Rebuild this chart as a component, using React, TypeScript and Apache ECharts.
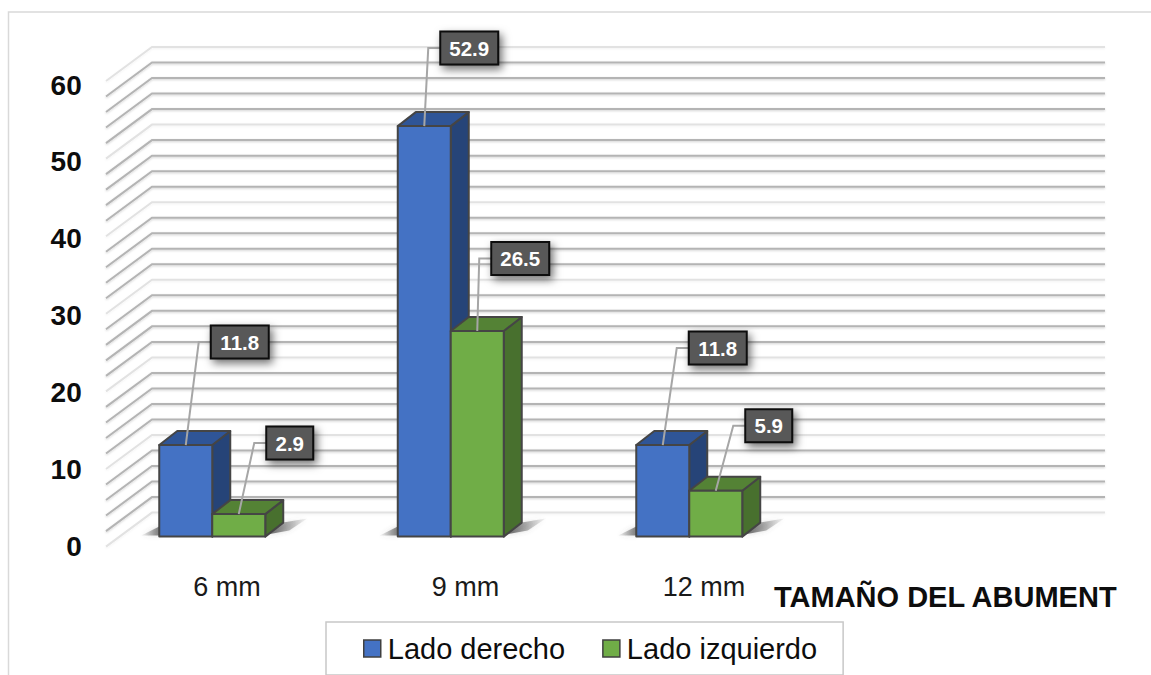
import React, { useEffect, useRef } from "react";
import * as echarts from "echarts";

// Abutment sizes and share of cases on each side
const categories = ["6 mm", "9 mm", "12 mm", ""];
const ladoDerecho = [11.8, 52.9, 11.8];
const ladoIzquierdo = [2.9, 26.5, 5.9];
const yTicks = [0, 10, 20, 30, 40, 50, 60];
const wallTicks = [0, 2, 4, 6, 8, 10, 12, 14, 16, 18, 20, 22, 24, 26, 28, 30, 32, 34, 36, 38, 40, 42, 44, 46, 48, 50, 52, 54, 56, 58, 60];
const xTitle = "TAMAÑO DEL ABUMENT";

// Callout placement, relative to the middle of each bar's top front edge
const derechoCallouts = [[54, -103], [45, -78], [55, -97]];
const izquierdoCallouts = [[51, -71], [43, -72.5], [53, -65]];

const FONT = '"Liberation Sans", Arial, sans-serif';
const DEPTH_X = 18;
const DEPTH_Y = 14;

const PALETTE = {
  blue: { front: "#4472c4", top: "#2f5597", side: "#264478" },
  green: { front: "#70ad47", top: "#548235", side: "#48702e" },
};

const EDGE = { stroke: "#454545", lineWidth: 2, lineJoin: "round" };

function barGeometry(api: any, seriesIndex: number) {
  const base = api.coord([api.value(0), 0]);
  const top = api.coord([api.value(0), api.value(1)]);
  const band = api.size([1, 0])[0];
  const w = band * 0.2222;
  const x0 = base[0] + (seriesIndex === 0 ? -w : 0);
  return { x0, x1: x0 + w, y0: base[1], y1: top[1], w };
}

function renderWall(params: any, api: any) {
  const v = api.value(1);
  const y = api.coord([0, v])[1];
  const cs = params.coordSys;
  const major = v % 10 === 0;
  return {
    type: "polyline",
    shape: {
      points: [
        [cs.x + 13, y + 10],
        [cs.x + 59, y - 24],
        [cs.x + 1012, y - 24],
      ],
    },
    style: {
      fill: "none",
      stroke: major ? "#e2e2e2" : "#b4b4b4",
      lineWidth: 2,
      shadowBlur: 2,
      shadowColor: major ? "rgba(0,0,0,0.05)" : "rgba(0,0,0,0.18)",
      shadowOffsetY: 1,
    },
  };
}

function makeBarRenderer(seriesIndex: number, colors: { front: string; top: string; side: string }) {
  return (_params: any, api: any) => {
    const { x0, x1, y0, y1 } = barGeometry(api, seriesIndex);
    const floorShadow =
      seriesIndex === 0
        ? {
            type: "polygon",
            shape: { points: [[x0 - 18, y0 - 1], [x0, y0 - 1], [x0, y0 - 10]] },
            style: {
              fill: new echarts.graphic.LinearGradient(0, 0, 1, 0, [
                { offset: 0, color: "rgba(90,90,90,0.05)" },
                { offset: 1, color: "rgba(80,80,80,0.7)" },
              ]),
              shadowBlur: 5,
              shadowColor: "rgba(90,90,90,0.4)",
            },
          }
        : {
            type: "polygon",
            shape: {
              points: [[x1 + 2, y0 - 2], [x1 + DEPTH_X, y0 - DEPTH_Y], [x1 + 42, y0 - 18], [x1 + 24, y0 - 6]],
            },
            style: {
              fill: new echarts.graphic.LinearGradient(0, 0, 1, 0, [
                { offset: 0, color: "rgba(60,60,60,0.8)" },
                { offset: 1, color: "rgba(90,90,90,0.05)" },
              ]),
              shadowBlur: 5,
              shadowColor: "rgba(90,90,90,0.4)",
            },
          };
    return {
      type: "group",
      children: [
        floorShadow,
        {
          type: "polygon",
          shape: { points: [[x1, y1], [x1 + DEPTH_X, y1 - DEPTH_Y], [x1 + DEPTH_X, y0 - DEPTH_Y], [x1, y0]] },
          style: { fill: colors.side, ...EDGE },
        },
        {
          type: "polygon",
          shape: { points: [[x0, y1], [x0 + DEPTH_X, y1 - DEPTH_Y], [x1 + DEPTH_X, y1 - DEPTH_Y], [x1, y1]] },
          style: { fill: colors.top, ...EDGE },
        },
        {
          type: "rect",
          shape: { x: x0, y: y1, width: x1 - x0, height: y0 - y1 },
          style: { fill: colors.front, ...EDGE },
        },
      ],
    };
  };
}

function makeCalloutRenderer(seriesIndex: number, offsets: number[][]) {
  return (params: any, api: any) => {
    const { x0, x1, y1 } = barGeometry(api, seriesIndex);
    const [dx, dy] = offsets[params.dataIndex];
    const value = api.value(1);
    const text = value.toFixed(1);
    const cx = (x0 + x1) / 2;
    const boxW = text.length > 3 ? 58 : 47;
    const boxH = 33;
    const bx = cx + dx;
    const by = y1 + dy;
    return {
      type: "group",
      children: [
        {
          type: "polyline",
          shape: { points: [[cx, y1], [bx - boxW / 2 - 12, by], [bx - boxW / 2, by]] },
          style: { fill: "none", stroke: "#a6a6a6", lineWidth: 2 },
        },
        {
          type: "rect",
          shape: { x: bx - boxW / 2, y: by - boxH / 2, width: boxW, height: boxH },
          style: {
            fill: "#595959",
            stroke: "#0d0d0d",
            lineWidth: 2,
            shadowBlur: 9,
            shadowColor: "rgba(0,0,0,0.55)",
            shadowOffsetX: 3,
            shadowOffsetY: 4,
          },
        },
        {
          type: "text",
          x: bx,
          y: by,
          style: {
            text,
            fill: "#ffffff",
            font: `bold 20.5px ${FONT}`,
            align: "center",
            verticalAlign: "middle",
          },
        },
      ],
    };
  };
}

export default function App() {
  const ref = useRef<HTMLDivElement>(null);

  useEffect(() => {
    const chart = echarts.init(ref.current!, null, { renderer: "svg" });
    const toPairs = (vals: number[]) => vals.map((v, i) => [i, v]);
    chart.setOption({
      animation: false,
      backgroundColor: "#ffffff",
      title: {
        text: xTitle,
        left: 774,
        top: 582,
        textStyle: { fontFamily: FONT, fontSize: 29, fontWeight: "bold", color: "#0d0d0d" },
        padding: 0,
      },
      legend: {
        left: 326,
        top: 622,
        padding: [12, 26, 12, 37],
        itemGap: 37,
        itemWidth: 17,
        itemHeight: 17,
        itemStyle: { borderColor: "#404040", borderWidth: 1.5 },
        icon: "rect",
        borderColor: "#c8c8c8",
        borderWidth: 1.5,
        textStyle: { fontFamily: FONT, fontSize: 29, color: "#0d0d0d", padding: [0, 0, 0, 2] },
        data: ["Lado derecho", "Lado izquierdo"],
      },
      grid: [
        // plane the bars stand on
        { left: 93, width: 954, top: 71, height: 465.6 },
        // plane that carries the axis texts
        { left: 107.75, width: 954, top: 85, height: 461 },
      ],
      xAxis: [
        { gridIndex: 0, type: "category", data: categories, show: false },
        {
          gridIndex: 1,
          type: "category",
          data: categories,
          axisLine: { show: false },
          axisTick: { show: false },
          axisLabel: { margin: 27, fontFamily: FONT, fontSize: 27, color: "#1a1a1a", interval: 0 },
        },
      ],
      yAxis: [
        { gridIndex: 0, type: "value", min: 0, max: 60, interval: 10, show: false },
        {
          gridIndex: 1,
          type: "value",
          min: 0,
          max: 60,
          interval: yTicks[1] - yTicks[0],
          axisLine: { show: false },
          axisTick: { show: false },
          splitLine: { show: false },
          axisLabel: { margin: 26, fontFamily: FONT, fontSize: 28, fontWeight: "bold", color: "#0d0d0d" },
        },
      ],
      series: [
        {
          type: "custom",
          name: "wall",
          coordinateSystem: "cartesian2d",
          renderItem: renderWall,
          data: wallTicks.map((v) => [0, v]),
          clip: false,
          silent: true,
          z: 1,
        },
        {
          type: "custom",
          name: "Lado derecho",
          coordinateSystem: "cartesian2d",
          renderItem: makeBarRenderer(0, PALETTE.blue),
          data: toPairs(ladoDerecho),
          itemStyle: { color: PALETTE.blue.front },
          clip: false,
          z: 2,
        },
        {
          type: "custom",
          name: "Lado izquierdo",
          coordinateSystem: "cartesian2d",
          renderItem: makeBarRenderer(1, PALETTE.green),
          data: toPairs(ladoIzquierdo),
          itemStyle: { color: PALETTE.green.front },
          clip: false,
          z: 3,
        },
        {
          type: "custom",
          name: "calloutsDerecho",
          coordinateSystem: "cartesian2d",
          renderItem: makeCalloutRenderer(0, derechoCallouts),
          data: toPairs(ladoDerecho),
          clip: false,
          z: 4,
        },
        {
          type: "custom",
          name: "calloutsIzquierdo",
          coordinateSystem: "cartesian2d",
          renderItem: makeCalloutRenderer(1, izquierdoCallouts),
          data: toPairs(ladoIzquierdo),
          clip: false,
          z: 4,
        },
      ],
      graphic: [
        {
          type: "polyline",
          shape: { points: [[8.5, 675], [8.5, 12], [1151, 12]] },
          style: { fill: "none", stroke: "#d9d9d9", lineWidth: 1.5 },
          z: 0,
        },
      ],
    });
    return () => chart.dispose();
  }, []);

  return (
    <div
      ref={ref}
      style={{ position: "fixed", left: 0, top: 0, width: 1151, height: 675, background: "#fff" }}
    />
  );
}
